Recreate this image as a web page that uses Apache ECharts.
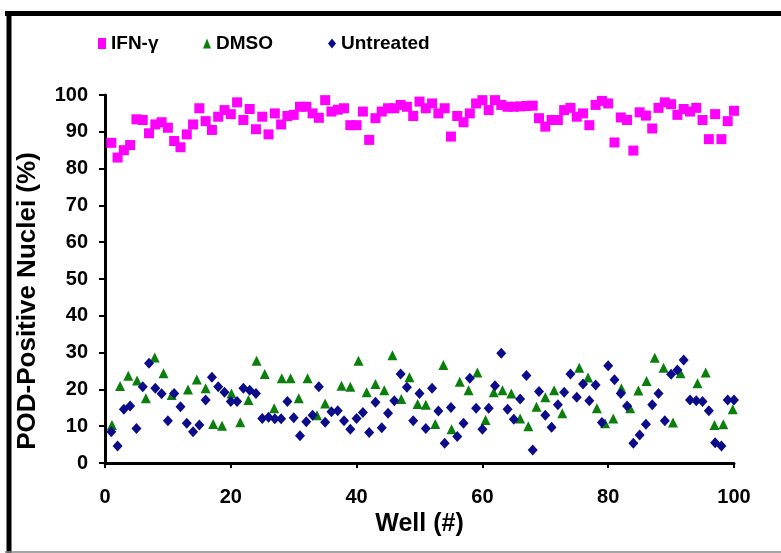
<!DOCTYPE html>
<html>
<head>
<meta charset="utf-8">
<script src="https://cdn.jsdelivr.net/npm/echarts@6/dist/echarts.min.js"></script>
<style>
  html, body { margin: 0; padding: 0; background: #fff; }
  #chart { width: 781px; height: 553px; }
</style>
</head>
<body>
<div id="chart"></div>
<script>
// wells 1..100 for IFN-γ and Untreated
const wells = [
  1, 2, 3, 4, 5, 6, 7, 8, 9, 10, 11, 12, 13, 14, 15, 16, 17, 18, 19, 20,
  21, 22, 23, 24, 25, 26, 27, 28, 29, 30, 31, 32, 33, 34, 35, 36, 37, 38, 39, 40,
  41, 42, 43, 44, 45, 46, 47, 48, 49, 50, 51, 52, 53, 54, 55, 56, 57, 58, 59, 60,
  61, 62, 63, 64, 65, 66, 67, 68, 69, 70, 71, 72, 73, 74, 75, 76, 77, 78, 79, 80,
  81, 82, 83, 84, 85, 86, 87, 88, 89, 90, 91, 92, 93, 94, 95, 96, 97, 98, 99, 100
]

const ifnValues = [
  87, 83, 85, 86.4, 93.4, 93.2, 89.6, 92, 92.6, 91.1, 87.5, 85.8, 89.3, 92, 96.4, 92.9, 90.5, 94.1, 95.9, 94.8,
  98, 93.2, 96.2, 90.7, 94.1, 89.3, 95, 92, 94.3, 94.6, 96.8, 96.8, 95, 93.8, 98.6, 95.5, 96, 96.4, 91.8, 91.8,
  95.5, 87.8, 93.7, 95.5, 96.4, 96.4, 97.3, 96.8, 94.3, 98.2, 96.4, 97.7, 95, 96.4, 88.7, 94.3, 92.6, 95, 97.7, 98.6,
  95.9, 98.6, 97.3, 96.8, 96.8, 96.9, 97, 97.1, 93.7, 91.4, 93.2, 93.2, 95.9, 96.5, 94.1, 95, 91.8, 97.3, 98.4, 97.7,
  87.1, 93.9, 93.2, 84.9, 95.3, 94.4, 90.9, 96.5, 98, 97.5, 94.6, 96.2, 95.5, 96.5, 93.2, 88, 94.8, 88, 92.9, 95.7
]

const untreatedValues = [
  8.5, 4.6, 14.6, 15.5, 9.4, 20.7, 27.1, 20.3, 18.8, 11.5, 18.9, 15.3, 10.8, 8.5, 10.3, 17.1, 23.3, 20.7, 19.2, 16.7,
  16.7, 20.3, 19.8, 18.9, 12.1, 12.4, 12, 12, 16.7, 12.3, 7.4, 11.2, 13, 20.7, 11.1, 13.9, 14.2, 11.5, 9.2, 12.1,
  13.7, 8.3, 16.5, 9.6, 13.5, 16.9, 24.2, 20.6, 11.5, 18.9, 9.4, 20.3, 14.1, 5.4, 15.1, 7.2, 10.8, 23, 14.9, 9.2,
  14.9, 21, 29.8, 14.6, 11.9, 17.4, 23.8, 3.5, 19.4, 13, 9.7, 15.8, 19.2, 24.2, 17.9, 21.5, 16.9, 21.2, 11, 26.4,
  22.6, 18.9, 15.5, 5.4, 7.6, 10.5, 15.8, 18.9, 11.5, 24.1, 25.3, 28, 17.1, 16.9, 16.7, 14.2, 5.5, 4.6, 17.1, 17.1
]

// DMSO points are not on whole wells
const dmsoWells = [
  1.1, 2.4, 3.7, 5.1, 6.5, 7.9, 9.3, 10.6, 13.2, 14.6, 16, 17.2, 18.6, 20.1, 21.5, 22.8, 24.1, 25.4, 26.9, 28.1,
  29.5, 30.8, 32.2, 33.7, 35, 37.6, 39, 40.3, 41.6, 43, 44.4, 45.7, 47.1, 48.4, 49.7, 51, 52.5, 53.8, 55.1, 56.4,
  57.8, 59.2, 60.5, 61.8, 63.2, 64.6, 66, 67.3, 68.6, 70, 71.4, 72.7, 75.4, 76.8, 78.2, 79.5, 80.8, 82.1, 83.5, 84.8,
  86.1, 87.4, 88.8, 90.3, 91.5, 94.2, 95.5, 96.9, 98.3, 99.8
]
const dmsoValues = [
  10.3, 20.9, 23.7, 22.4, 17.6, 28.7, 24.4, 18.5, 20, 22.7, 20.3, 10.6, 10.1, 18.9, 11.1, 17.1, 27.8, 24.2, 14.9, 23,
  23, 17.6, 23, 13, 16.2, 21, 20.7, 27.8, 19.2, 21.5, 19.8, 29.3, 17.4, 23.3, 16, 15.8, 10.6, 26.6, 9.2, 22.1,
  19.8, 24.6, 11.7, 19.2, 19.8, 18.9, 12.1, 10, 15.3, 17.9, 19.8, 13.5, 25.9, 23.2, 14.9, 10.8, 12.1, 20.3, 14.9, 19.7,
  22.3, 28.6, 25.9, 11, 24.4, 21.7, 24.6, 10.3, 10.5, 14.6
]

const xTicks = [0, 20, 40, 60, 80, 100]
const yTicks = [0, 10, 20, 30, 40, 50, 60, 70, 80, 90, 100]

function pairs(xs, ys) {
  return xs.map((x, i) => [x, ys[i]])
}

const FONT = 'Liberation Sans'

const legendText = {
  fontFamily: FONT,
  fontSize: 19,
  fontWeight: 'bold',
  color: '#000'
}

let opts = {
  backgroundColor: '#fff',
  animation: false,
  graphic: [
    { type: 'line', shape: { x1: 5, y1: 13.5, x2: 781, y2: 13.5 }, style: { stroke: '#000', lineWidth: 5 } },
    { type: 'line', shape: { x1: 9, y1: 11, x2: 9, y2: 553 }, style: { stroke: '#000', lineWidth: 5 } },
    { type: 'line', shape: { x1: 5, y1: 552, x2: 781, y2: 552 }, style: { stroke: '#888', lineWidth: 1.5 } }
  ],
  legend: [
    {
      left: 98, top: 34, padding: 0, itemWidth: 8, itemHeight: 11,
      data: [{ name: 'IFN-γ', icon: 'rect' }],
      textStyle: legendText
    },
    {
      left: 203, top: 34, padding: 0, itemWidth: 8, itemHeight: 10,
      data: [{ name: 'DMSO', icon: 'triangle' }],
      textStyle: legendText
    },
    {
      left: 328, top: 34, padding: 0, itemWidth: 8, itemHeight: 10,
      data: [{ name: 'Untreated', icon: 'diamond' }],
      textStyle: legendText
    }
  ],
  grid: {
    left: 105,
    right: 47,
    top: 95,
    bottom: 90
  },
  xAxis: {
    type: 'value',
    min: 0,
    max: 100,
    interval: 20,
    name: 'Well (#)',
    nameLocation: 'middle',
    nameGap: 43,
    nameTextStyle: { fontFamily: FONT, fontSize: 25, fontWeight: 'bold', color: '#000' },
    axisLine: { lineStyle: { color: '#000', width: 3 } },
    axisTick: { length: 5, lineStyle: { color: '#000', width: 2 } },
    axisLabel: {
      margin: 24,
      fontFamily: FONT, fontSize: 20, fontWeight: 'bold', color: '#000',
      formatter: v => xTicks.includes(v) ? String(v) : ''
    },
    splitLine: { show: false }
  },
  yAxis: {
    type: 'value',
    min: 0,
    max: 100,
    interval: 10,
    name: 'POD-Positive Nuclei (%)',
    nameLocation: 'middle',
    nameGap: 64,
    nameTextStyle: {
      fontFamily: FONT, fontSize: 26, fontWeight: 'bold', color: '#000',
      padding: [0, 44, 0, 0]
    },
    axisLine: { show: true, lineStyle: { color: '#000', width: 3 } },
    axisTick: { show: true, length: 6, lineStyle: { color: '#000', width: 2 } },
    axisLabel: {
      margin: 17,
      fontFamily: FONT, fontSize: 20, fontWeight: 'bold', color: '#000',
      formatter: v => yTicks.includes(v) ? String(v) : ''
    },
    splitLine: { show: false }
  },
  series: [
    {
      name: 'IFN-γ',
      type: 'scatter',
      symbol: 'rect',
      symbolSize: 10,
      itemStyle: { color: '#ff00ff', opacity: 1 },
      data: pairs(wells, ifnValues)
    },
    {
      name: 'DMSO',
      type: 'scatter',
      symbol: 'triangle',
      symbolSize: [10, 10],
      itemStyle: { color: '#0b7f0b', opacity: 1 },
      data: pairs(dmsoWells, dmsoValues)
    },
    {
      name: 'Untreated',
      type: 'scatter',
      symbol: 'diamond',
      symbolSize: [10, 11],
      itemStyle: { color: '#0c0c8a', opacity: 1 },
      data: pairs(wells, untreatedValues)
    }
  ]
}

const chart = echarts.init(document.getElementById('chart'))
chart.setOption(opts)
</script>
</body>
</html>
